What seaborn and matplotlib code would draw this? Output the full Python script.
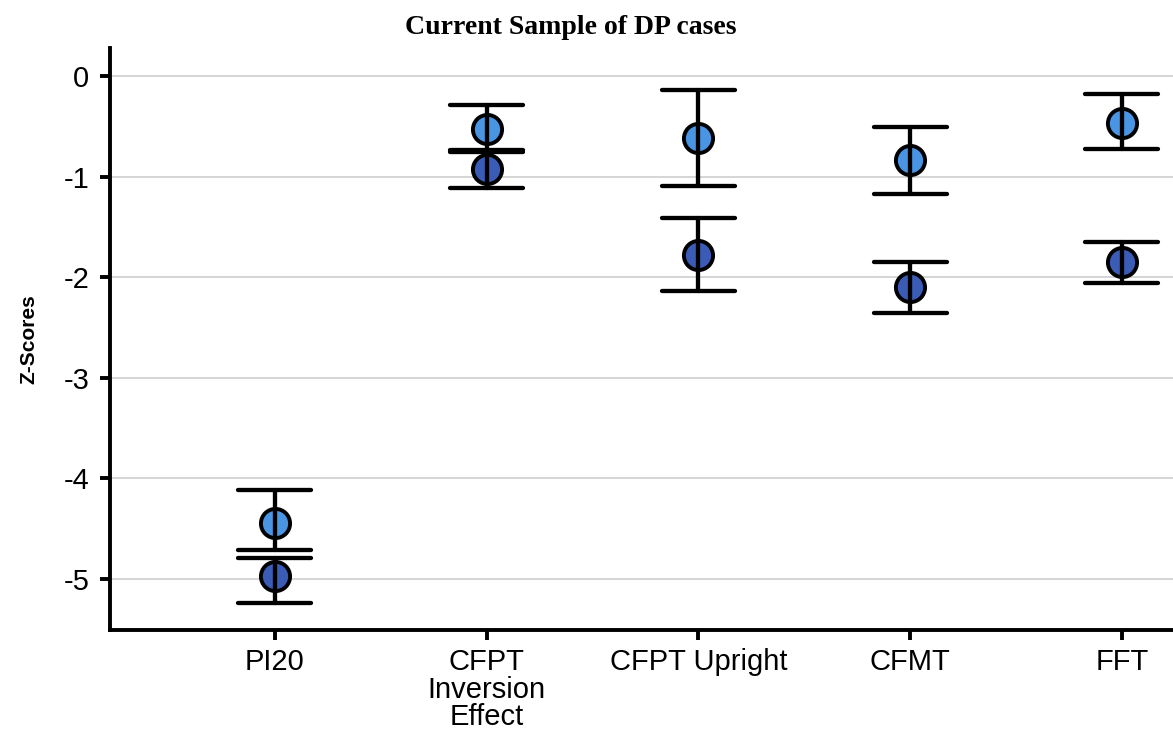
import numpy as np
import pandas as pd
import matplotlib
matplotlib.use("Agg")
import matplotlib.pyplot as plt
import seaborn as sns

categories = ["PI20", "CFPT\nInversion\nEffect", "CFPT Upright", "CFMT", "FFT"]
groups = ["Group 1", "Group 2"]

light_mean = [-4.44, -0.53, -0.62, -0.84, -0.47]
light_low = [-4.71, -0.76, -1.09, -1.17, -0.73]
light_high = [-4.12, -0.29, -0.14, -0.51, -0.18]

dark_mean = [-4.97, -0.92, -1.78, -2.10, -1.85]
dark_low = [-5.24, -1.11, -2.14, -2.36, -2.06]
dark_high = [-4.79, -0.74, -1.41, -1.85, -1.65]

yticks = [0, -1, -2, -3, -4, -5]

rows = []
for g, (lo, mu, hi) in zip(groups, [(light_low, light_mean, light_high),
                                     (dark_low, dark_mean, dark_high)]):
    for c, a, b, d in zip(categories, lo, mu, hi):
        for v in (a, b, d):
            rows.append({"Test": c, "Group": g, "Z": v})
df = pd.DataFrame(rows)

sns.set_style("white")
plt.rcParams["font.family"] = ["Liberation Sans", "DejaVu Sans"]
plt.rcParams["text.color"] = "black"
plt.rcParams["axes.labelcolor"] = "black"

fig = plt.figure(figsize=(11.73, 7.44), dpi=100)
ax = fig.add_axes([110 / 1173, 1 - 630 / 744, 1 - 110 / 1173, (630 - 48) / 744])

sns.pointplot(
    data=df, x="Test", y="Z", hue="Group", order=categories, hue_order=groups,
    estimator="median", errorbar=("pi", 100), dodge=False,
    palette=["#4a95e3", "#3b5cb6"], linestyle="none", marker="o",
    markersize=21, markeredgecolor="black", markeredgewidth=2.8,
    capsize=0.345, err_kws={"color": "black", "linewidth": 3.1},
    legend=False, ax=ax,
)

ax.set_xlim(-0.779, 4.242)
ax.set_ylim(-5.507, 0.278)
ax.set_yticks(yticks)
ax.set_yticklabels([str(t) for t in yticks])
ax.yaxis.grid(True, color="#d2d2d2", linewidth=1.3)
ax.xaxis.grid(False)
ax.set_axisbelow(True)

for s in ["top", "right"]:
    ax.spines[s].set_visible(False)
for s in ["left", "bottom"]:
    ax.spines[s].set_linewidth(2.8)
    ax.spines[s].set_color("black")

ax.tick_params(axis="both", which="major", length=7, width=2.8, color="black",
               labelsize=21, labelcolor="black", direction="out")
ax.tick_params(axis="y", pad=8)
ax.tick_params(axis="x", pad=6)
ax.tick_params(left=True, bottom=True)
for lab in ax.get_xticklabels():
    lab.set_linespacing(0.98)

ax.set_xlabel("")
ax.set_ylabel("Z-Scores", fontsize=15, fontweight="bold", labelpad=18, color="black")

fig.text(571 / 1173, 1 - 27 / 744, "Current Sample of DP cases",
         ha="center", va="center", fontsize=20, fontweight="bold", color="black",
         family=["Liberation Serif", "DejaVu Serif"])

fig.savefig("out.png", dpi=100)
